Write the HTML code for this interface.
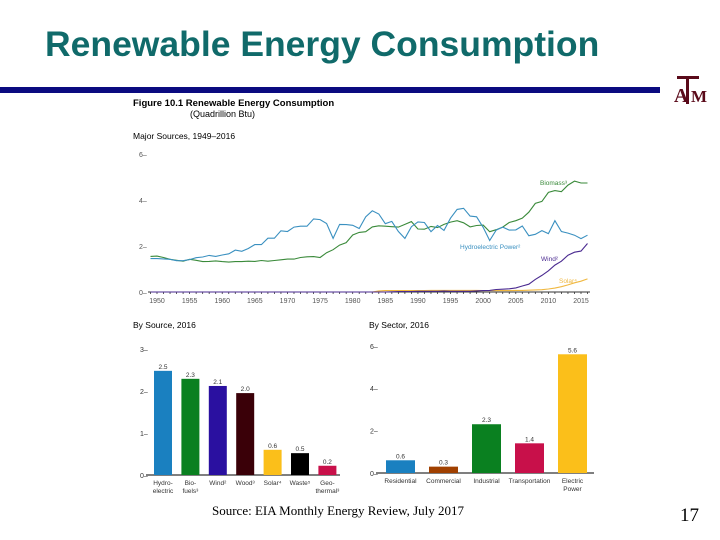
<!DOCTYPE html>
<html><head><meta charset="utf-8">
<style>
body{margin:0;width:720px;height:540px;background:#fff;overflow:hidden;position:relative;font-family:"Liberation Sans",sans-serif}
#title{position:absolute;left:45px;top:24px;font-size:35.5px;font-weight:bold;color:#106a6a;white-space:nowrap}
#bar{position:absolute;left:0;top:87px;width:660px;height:6px;background:#0a0a80}
#src{position:absolute;left:212px;top:503px;font-family:"Liberation Serif",serif;font-size:13px;color:#000}
#pg{position:absolute;left:680px;top:505px;font-family:"Liberation Serif",serif;font-size:19px}
svg{position:absolute;left:0;top:0}
</style></head><body>
<div id="title">Renewable Energy Consumption</div>
<div id="bar"></div>
<div id="src">Source: EIA Monthly Energy Review, July 2017</div>
<div id="pg">17</div>
<svg id="s" width="720" height="540">
<g font-family="Liberation Serif,serif" font-weight="bold" fill="#5a0a1a">
<rect x="677" y="76" width="22" height="3"/>
<text x="674" y="102" font-size="20">A</text><text x="691" y="102" font-size="17">M</text>
<rect x="686" y="78" width="3" height="26"/>
</g>
<text x="133" y="106" font-size="9.5" font-weight="bold">Figure 10.1  Renewable Energy Consumption</text>
<text x="190" y="117" font-size="9">(Quadrillion Btu)</text>
<text x="133" y="139" font-size="8.5">Major Sources, 1949–2016</text>
<text x="133" y="328" font-size="8.5">By Source, 2016</text>
<text x="369" y="328" font-size="8.5">By Sector, 2016</text>
<g id="g1"></g><g id="g2"></g><g id="g3"></g>
</svg>
<script>
const years=[];for(let y=1949;y<=2016;y++)years.push(y);
const hydro=[1.45,1.45,1.44,1.42,1.36,1.36,1.41,1.49,1.52,1.59,1.55,1.61,1.66,1.82,1.77,1.89,2.06,2.06,2.34,2.34,2.66,2.63,2.82,2.86,2.86,3.18,3.15,2.98,2.33,2.94,2.93,2.90,2.76,3.27,3.53,3.39,2.97,3.07,2.63,2.33,2.84,3.05,3.02,2.62,2.89,2.68,3.21,3.59,3.64,3.30,3.27,2.81,2.24,2.69,2.82,2.69,2.70,2.87,2.45,2.51,2.67,2.54,3.10,2.63,2.56,2.47,2.32,2.47];
const biomass=[1.55,1.56,1.50,1.42,1.38,1.34,1.42,1.38,1.32,1.33,1.35,1.32,1.30,1.32,1.32,1.34,1.33,1.37,1.34,1.37,1.40,1.43,1.43,1.50,1.53,1.54,1.50,1.71,1.84,2.04,2.15,2.48,2.59,2.62,2.83,2.88,2.86,2.84,2.82,2.94,3.06,2.74,2.73,2.85,2.80,2.94,3.04,3.10,3.01,2.83,2.89,2.91,2.62,2.71,2.82,3.02,3.10,3.21,3.47,3.85,3.94,4.33,4.41,4.36,4.65,4.82,4.74,4.74];
const wind=[0,0,0,0,0,0,0,0,0,0,0,0,0,0,0,0,0,0,0,0,0,0,0,0,0,0,0,0,0,0,0,0,0,0,0,0,0,0.01,0.02,0.02,0.02,0.03,0.03,0.03,0.03,0.04,0.03,0.03,0.03,0.03,0.05,0.06,0.07,0.11,0.12,0.14,0.18,0.26,0.34,0.55,0.72,0.92,1.17,1.34,1.60,1.73,1.78,2.11];
const solar=[0,0,0,0,0,0,0,0,0,0,0,0,0,0,0,0,0,0,0,0,0,0,0,0,0,0,0,0,0,0,0,0,0,0,0,0.05,0.06,0.06,0.06,0.06,0.06,0.06,0.06,0.07,0.07,0.07,0.07,0.07,0.07,0.07,0.07,0.06,0.06,0.06,0.06,0.06,0.07,0.07,0.08,0.09,0.10,0.13,0.17,0.23,0.31,0.40,0.47,0.57];
const yTicks1=[0,2,4,6];const xTicks1=[1950,1955,1960,1965,1970,1975,1980,1985,1990,1995,2000,2005,2010,2015];
const srcCats=["Hydro-|electric","Bio-|fuels³","Wind²","Wood³","Solar⁴","Waste⁵","Geo-|thermal³"];
const srcVals=[2.48,2.29,2.12,1.95,0.6,0.52,0.22];
const srcLabels=["2.5","2.3","2.1","2.0","0.6","0.5","0.2"];
const srcColors=["#1a80c0","#0a8020","#2a10a0","#3a0008","#fbbf1a","#000000","#c8104a"];
const yTicks2=[0,1,2,3];
const secCats=["Residential","Commercial","Industrial","Transportation","Electric|Power"];
const secVals=[0.6,0.3,2.3,1.4,5.6];
const secLabels=["0.6","0.3","2.3","1.4","5.6"];
const secColors=["#1a80c0","#a04000","#0a8020","#c8104a","#fbbf1a"];
const yTicks3=[0,2,4,6];
const NS="http://www.w3.org/2000/svg";
function mk(p,t,a,txt){const e=document.createElementNS(NS,t);for(const k in a)e.setAttribute(k,a[k]);if(txt!==undefined)e.textContent=txt;p.appendChild(e);return e;}
const g1=document.getElementById('g1');
const X=y=>157+(y-1950)*(424/65), Y=v=>292-v*23;
mk(g1,'line',{x1:148,y1:292,x2:590,y2:292,stroke:'#333','stroke-width':1});
for(let y=1949;y<=2016;y++){const t=mk(g1,'line',{x1:X(y),y1:292,x2:X(y),y2:294,stroke:'#333','stroke-width':0.8});}
yTicks1.forEach(v=>{const t=mk(g1,'text',{x:139,y:Y(v)+3,'font-size':7,fill:'#555'},v+'–');});
xTicks1.forEach(v=>{const t=mk(g1,'text',{x:X(v),y:303,'font-size':7,fill:'#555','text-anchor':'middle'},v);});
function series(arr,col,name){const d=arr.map((v,i)=>(i?'L':'M')+X(years[i]).toFixed(1)+','+Y(v).toFixed(1)).join('');const p=mk(g1,'path',{d,fill:'none',stroke:col,'stroke-width':1.1});}
series(solar,'#f0b840','solar-line');series(wind,'#4a2a90','wind-line');series(biomass,'#3a8a3a','biomass-line');series(hydro,'#3a90c0','hydro-line');
[['Biomass³',540,185,'#3a8a3a'],['Hydroelectric Power²',460,249,'#3a90c0'],['Wind²',541,261,'#4a2a90'],['Solar⁴',559,283,'#f0b840']].forEach(a=>{const t=mk(g1,'text',{x:a[1],y:a[2],'font-size':6.5,fill:a[3]},a[0]);});
function bars(gid,cats,vals,labels,cols,ticks,y0,scale,x0,pitch,bw,axL,axR,tickX,nm){
 const g=document.getElementById(gid);const Yb=v=>y0-v*scale;
 mk(g,'line',{x1:axL,y1:y0,x2:axR,y2:y0,stroke:'#333','stroke-width':1.2});
 ticks.forEach(v=>{const t=mk(g,'text',{x:tickX,y:Yb(v)+3,'font-size':7,fill:'#333'},v+'–');});
 vals.forEach((v,i)=>{const x=x0+i*pitch;
  const r=mk(g,'rect',{x,y:Yb(v),width:bw,height:v*scale,fill:cols[i]});
  const l=mk(g,'text',{x:x+bw/2,y:Yb(v)-2,'font-size':6.5,'text-anchor':'middle',fill:'#333'},labels[i]);
  cats[i].split('|').forEach((s,j)=>{const c=mk(g,'text',{x:x+bw/2,y:y0+10+j*8,'font-size':6.5,'text-anchor':'middle',fill:'#333'},s);});
 });
}
bars('g2',srcCats,srcVals,srcLabels,srcColors,yTicks2,475,42,154,27.4,18,146,340,140,'source');
bars('g3',secCats,secVals,secLabels,secColors,yTicks3,473,21.2,386,43,29,376,594,370,'sector');
</script>
</body></html>
